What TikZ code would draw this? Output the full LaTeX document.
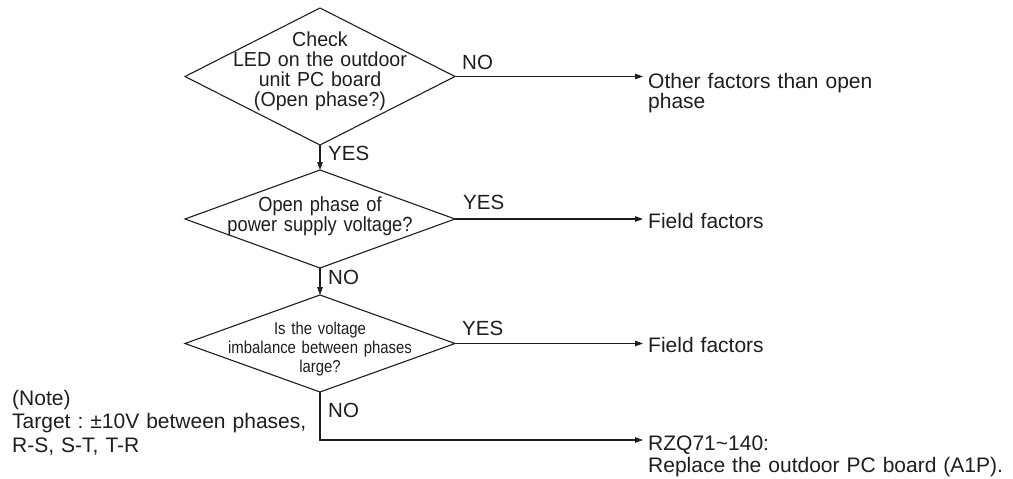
\documentclass[tikz,border=0pt]{standalone}
\usepackage{fontspec}
\setmainfont{Liberation Sans}
\newfontfamily\dAfont{Liberation Sans}[FakeStretch=0.965]
\newfontfamily\dfont{Liberation Sans}[FakeStretch=0.89]
\newfontfamily\condfont{Liberation Sans}[FakeStretch=0.866]
\usetikzlibrary{shapes.geometric,arrows.meta,calc}
\definecolor{ink}{RGB}{30,30,30}
\frenchspacing
\begin{document}
\begin{tikzpicture}[x=1pt,y=-1pt,
  dec/.style={draw=ink, diamond, inner sep=0pt, outer sep=0pt, line width=1.1pt, minimum width=270pt},
  arr/.style={draw=ink, line width=1.1pt, -{Stealth[length=8pt,width=5.5pt,inset=0pt]}},
  lbl/.style={anchor=base west, inner sep=0pt, text=ink, font=\fontsize{20.5}{24}\selectfont},
  outtext/.style={anchor=base west, inner sep=0pt, inner xsep=5pt, text width=370pt, align=left, text=ink, font=\fontsize{21}{17}\selectfont},
  dtext/.style={anchor=base, inner sep=0pt, text width=262pt, align=center, text=ink}
]
\useasboundingbox (0,0) rectangle (1013,479);

% decisions
\node[dec, minimum height=137pt] (d1) at (320,76.5) {};
\node[dec, minimum height=98pt] (d2) at (320,219) {};
\node[dec, minimum height=97pt] (d3) at (320,343.5) {};

\node[dtext, font=\dAfont\fontsize{20.3}{20}\selectfont] (d1t) at (320,46.7)
  {Check\\LED on the outdoor\\unit PC board\\(Open phase?)};
\node[dtext, font=\dfont\fontsize{20.5}{18.7}\selectfont] (d2t) at (320,211)
  {Open phase of\\power supply voltage?};
\node[dtext, font=\condfont\fontsize{17.2}{19}\selectfont] (d3t) at (320,334)
  {Is the voltage\\imbalance between phases\\large?};

% outcomes
\node[outtext] (o1) at (643,88) {Other factors than open\\phase};
\node[outtext] (f1) at (643,228) {Field factors};
\node[outtext] (f2) at (643,352) {Field factors};
\node[outtext, font=\fontsize{21}{22}\selectfont] (r1) at (643,450)
  {RZQ71\textasciitilde140:\\Replace the outdoor PC board (A1P).};

% note
\node[anchor=base west, inner sep=0pt, text width=330pt, align=left, text=ink,
  font=\fontsize{21}{23.5}\selectfont] (note) at (12,405)
  {(Note)\\Target : ±10V between phases,\\R-S, S-T, T-R};

% labels
\node[lbl] (l1) at (462,69) {NO};
\node[lbl] (l2) at (328,160) {YES};
\node[lbl] (l3) at (463,209) {YES};
\node[lbl] (l4) at (328,284) {NO};
\node[lbl] (l5) at (462,335) {YES};
\node[lbl] (l6) at (328,417) {NO};

% connectors
\draw[arr] (d1.south) -- (d2.north);
\draw[arr] (d2.south) -- (d3.north);
\draw[arr] (d1.east) -- (d1.east -| o1.west);
\draw[arr] (d2.east) -- (d2.east -| f1.west);
\draw[arr] (d3.east) -- (d3.east -| f2.west);
\draw[arr] (d3.south) |- ($(r1.base west)+(0,-10)$);
\end{tikzpicture}
\end{document}
